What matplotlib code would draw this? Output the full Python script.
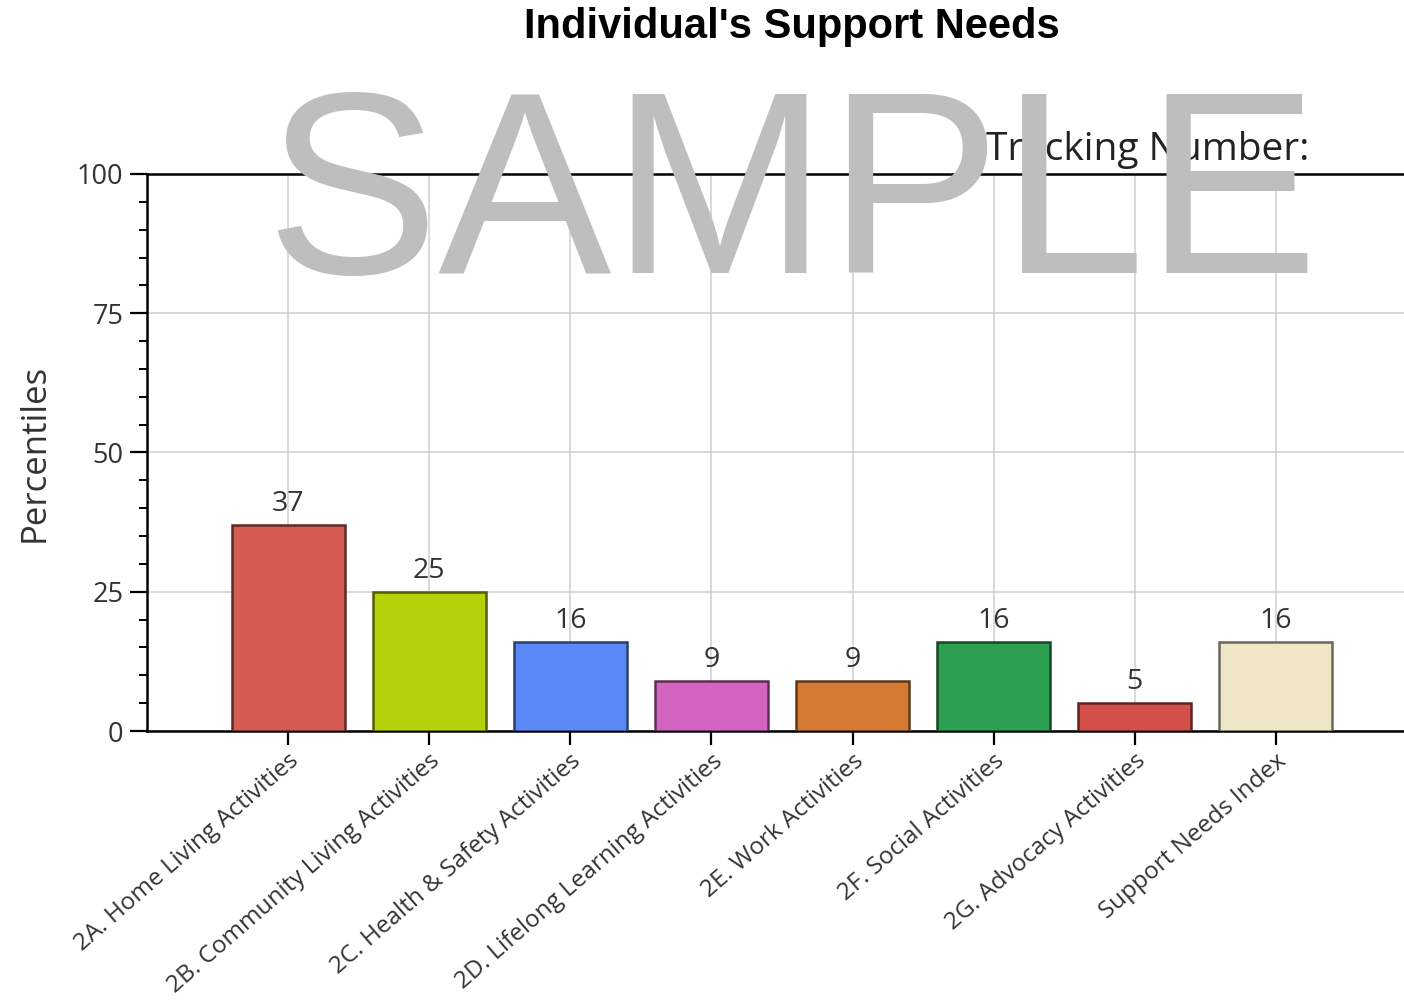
import numpy as np
import matplotlib.pyplot as plt
from matplotlib.ticker import MultipleLocator
from matplotlib.colors import to_rgb

# Category data
categories = [
    '2A. Home Living Activities',
    '2B. Community Living Activities',
    '2C. Health & Safety Activities',
    '2D. Lifelong Learning Activities',
    '2E. Work Activities',
    '2F. Social Activities',
    '2G. Advocacy Activities',
    'Support Needs Index',
]
percentiles = [37, 25, 16, 9, 9, 16, 5, 16]
bar_colors = ['#D45B52', '#B5D10A', '#5B88F7', '#D263BF',
              '#D57A32', '#2CA050', '#D44F4A', '#EEE6C6']

y_ticks = [0, 25, 50, 75, 100]

FONT = ['Open Sans', 'DejaVu Sans']


def darker(c, f=0.45):
    r, g, b = to_rgb(c)
    return (r * f, g * f, b * f)


fig = plt.figure(figsize=(14.04, 10), dpi=100)
W, H = 1404, 1000
# axes position in pixels: left 147, bottom 731, top 174, spans past the right edge
ax = fig.add_axes([147 / W, 1 - 731 / H, (1417 - 147) / W, (731 - 174) / H])

x = np.arange(len(categories))
ax.bar(x, percentiles, width=0.8, color=bar_colors,
       edgecolor=[darker(c) for c in bar_colors], linewidth=1.8, zorder=3)

for xi, v in zip(x, percentiles):
    ax.annotate(str(v), xy=(xi, v), xytext=(0, 5), textcoords='offset points',
                ha='center', va='bottom', fontsize=20.5, color='#333333',
                family=FONT, zorder=4)

ax.set_xlim(-1, 8)
ax.set_ylim(0, 100)

# grid
ax.set_yticks(y_ticks)
ax.yaxis.set_minor_locator(MultipleLocator(5))
ax.set_xticks(x)
ax.grid(True, color='#D0D0D0', linewidth=1.1, zorder=0)

ax.set_xticklabels(categories, rotation=41, ha='right', rotation_mode='anchor',
                   fontsize=17.5, color='#333333', family=FONT)
ax.set_yticklabels([str(t) for t in y_ticks], fontsize=19.5, color='#333333',
                   family=FONT)

ax.tick_params(axis='y', which='major', length=12, width=1.6, pad=5, direction='out')
ax.tick_params(axis='y', which='minor', length=6, width=1.4, direction='out')
ax.tick_params(axis='x', which='major', length=10, width=1.6, pad=3, direction='out')

for side in ['left', 'bottom', 'top']:
    ax.spines[side].set_linewidth(1.8)
    ax.spines[side].set_color('black')
ax.spines['right'].set_visible(False)

ax.set_ylabel('Percentiles', fontsize=25, color='#333333', family=FONT)
ax.yaxis.set_label_coords(-0.075, 0.50)

fig.text(792 / W, 1 - 27 / H, "Individual's Support Needs", ha='center', va='center',
         fontsize=30, fontweight='bold', family=['Liberation Sans', 'DejaVu Sans'])

fig.text(986 / W, 1 - 160 / H, 'Tracking Number:', ha='left', va='baseline',
         fontsize=28, color='#222222', family=FONT)

# watermark
fig.text(792 / W, 1 - 273 / H, 'SAMPLE', ha='center', va='baseline',
         fontsize=187, color='#BEBEBE', family=['Liberation Sans', 'DejaVu Sans'],
         zorder=10)

plt.savefig('out.png', dpi=100)
